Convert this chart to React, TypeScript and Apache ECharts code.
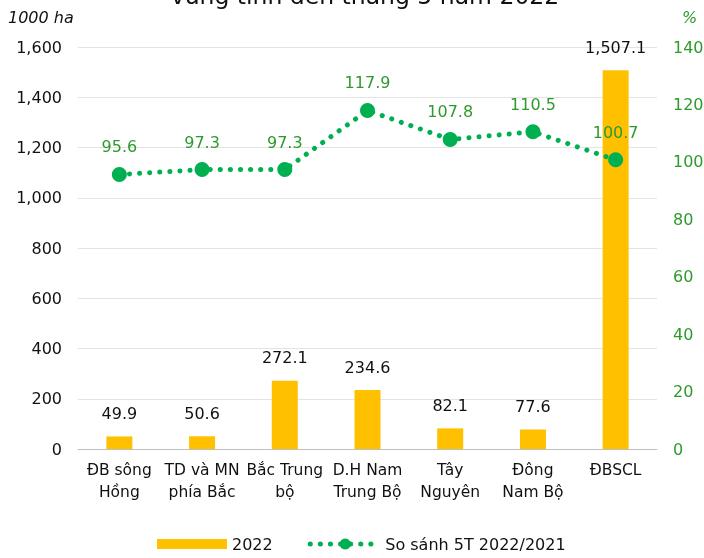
import React, { useEffect, useRef } from "react";
import * as echarts from "echarts";

const categories = [
  "ĐB sông\nHồng",
  "TD và MN\nphía Bắc",
  "Bắc Trung\nbộ",
  "D.H Nam\nTrung Bộ",
  "Tây\nNguyên",
  "Đông\nNam Bộ",
  "ĐBSCL",
];
const area2022 = [49.9, 50.6, 272.1, 234.6, 82.1, 77.6, 1507.1];
const compare = [95.6, 97.3, 97.3, 117.9, 107.8, 110.5, 100.7];

const FONT = "'DejaVu Sans', 'Liberation Sans', Arial, sans-serif";
const GREEN_TEXT = "#2E9A2E";
const GREEN_DOT = "#00B050";
const BAR_COLOR = "#FFC000";

export default function App() {
  const ref = useRef<HTMLDivElement>(null);
  useEffect(() => {
    if (!ref.current) return;
    const chart = echarts.init(ref.current, null, { renderer: "svg" });
    chart.setOption({
      animation: false,
      textStyle: { fontFamily: FONT },
      title: {
        text: "vùng tính đến tháng 5 năm 2022",
        left: 360,
        textAlign: "center",
        top: -21,
        textStyle: { fontSize: 23.5, fontWeight: "normal", color: "#111", fontFamily: FONT },
      },
      graphic: [
        {
          type: "text",
          left: 8,
          top: 9,
          style: { text: "1000 ha", font: `italic 16px ${FONT}`, fill: "#111" },
        },
        {
          type: "text",
          left: 682,
          top: 9,
          style: { text: "%", font: `italic 16px ${FONT}`, fill: GREEN_TEXT },
        },
      ],
      grid: { left: 78, right: 47, top: 47, bottom: 109, outerBoundsMode: "none" },
      legend: {
        top: 531,
        left: 152,
        itemWidth: 70,
        itemHeight: 14,
        itemGap: 35,
        textStyle: { fontSize: 16, color: "#111", fontFamily: FONT },
        data: [
          { name: "2022", icon: "path://M0,0L70,0M0,2L70,2L70,12L0,12ZM0,14L70,14" },
          {
            name: "So sánh 5T 2022/2021",
            lineStyle: { color: GREEN_DOT, width: 5, type: [0.1, 10], cap: "round" },
          },
        ],
      },
      xAxis: {
        type: "category",
        data: categories,
        axisTick: { show: false },
        axisLine: { lineStyle: { color: "#bfbfbf" } },
        axisLabel: { fontSize: 15.5, color: "#111", margin: 10, lineHeight: 22, interval: 0 },
      },
      yAxis: [
        {
          type: "value",
          min: 0,
          max: 1600,
          interval: 200,
          axisLabel: {
            fontSize: 16,
            color: "#111",
            margin: 16,
            formatter: (v: number) => v.toLocaleString("en-US"),
          },
          splitLine: { lineStyle: { color: "#e3e3e3" } },
          axisLine: { show: false },
          axisTick: { show: false },
        },
        {
          type: "value",
          min: 0,
          max: 140,
          interval: 20,
          position: "right",
          axisLabel: { fontSize: 16, color: GREEN_TEXT, margin: 16 },
          splitLine: { show: false },
          axisLine: { show: false },
          axisTick: { show: false },
        },
      ],
      series: [
        {
          name: "2022",
          type: "bar",
          data: area2022,
          barWidth: 26,
          itemStyle: { color: BAR_COLOR },
          label: {
            show: true,
            position: "top",
            distance: 15,
            fontSize: 16,
            color: "#111",
            formatter: (p: any) =>
              p.value.toLocaleString("en-US", { minimumFractionDigits: 1, maximumFractionDigits: 1 }),
          },
        },
        {
          name: "So sánh 5T 2022/2021",
          type: "line",
          yAxisIndex: 1,
          data: compare,
          symbol: "circle",
          symbolSize: 15,
          itemStyle: { color: GREEN_DOT },
          lineStyle: { color: GREEN_DOT, width: 5, type: [0.1, 10], cap: "round" },
          label: {
            show: true,
            position: "top",
            distance: 12,
            fontSize: 16,
            color: GREEN_TEXT,
            formatter: (p: any) => p.value.toFixed(1),
          },
        },
      ],
    });
    return () => chart.dispose();
  }, []);
  return (
    <div
      ref={ref}
      style={{ position: "fixed", left: 0, top: 0, width: 704, height: 558 }}
    />
  );
}
